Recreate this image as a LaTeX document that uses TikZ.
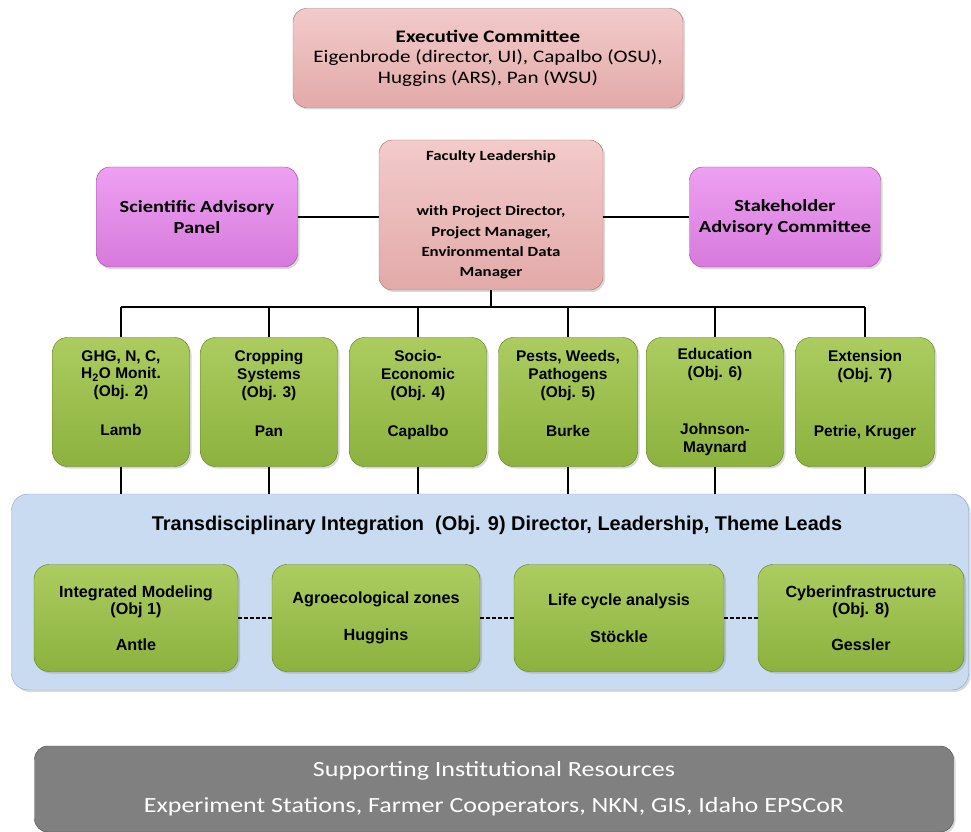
\documentclass[tikz,border=0pt]{standalone}
\usepackage{fontspec}
\setmainfont[FakeStretch=1.2]{Carlito}
\newfontfamily\objfont{Liberation Sans}
\usetikzlibrary{shadows}

\definecolor{pinktop}{RGB}{242,203,202}
\definecolor{pinkbot}{RGB}{226,170,169}
\definecolor{pinkline}{RGB}{170,120,120}
\definecolor{magtop}{RGB}{238,160,242}
\definecolor{magbot}{RGB}{214,122,220}
\definecolor{magline}{RGB}{160,80,165}
\definecolor{greentop}{RGB}{172,204,96}
\definecolor{greenbot}{RGB}{140,178,62}
\definecolor{greenline}{RGB}{100,130,40}
\definecolor{bluefill}{RGB}{200,219,240}
\definecolor{blueline}{RGB}{140,170,205}
\definecolor{grayfill}{RGB}{128,128,128}
\definecolor{grayline}{RGB}{85,85,85}

\tikzset{
  wh/.style 2 args={minimum width=#1*0.3mm, minimum height=#2*0.3mm},
  box/.style={draw, rounded corners=4mm, align=center, inner sep=1pt,
    drop shadow={opacity=0.3, shadow xshift=0.6mm, shadow yshift=-0.6mm}},
  execbox/.style={box, draw=pinkline, top color=pinktop, bottom color=pinkbot,
    font=\fontsize{15}{17.4}\selectfont},
  advbox/.style={box, draw=magline, top color=magtop, bottom color=magbot,
    font=\fontsize{14.5}{18}\selectfont\bfseries},
  objbox/.style={box, rounded corners=4.5mm, draw=greenline, top color=greentop,
    bottom color=greenbot, font=\objfont\fontsize{13.2}{15.3}\selectfont\bfseries},
  intbox/.style={box, rounded corners=5mm, draw=blueline, fill=bluefill},
  resbox/.style={box, draw=grayline, fill=grayfill, text=white,
    font=\fontsize{18.5}{31}\selectfont},
  link/.style={line width=1.3pt},
  dashlink/.style={line width=1.5pt, dash pattern=on 3.4pt off 1.7pt}
}

\begin{document}
\begin{tikzpicture}[x=0.3mm, y=-0.3mm]
  \useasboundingbox (0,0) rectangle (971,832);

  \node[execbox, wh={390}{99}] (exec) at (488,58)
    {\textbf{Executive Committee}\\Eigenbrode (director, UI), Capalbo (OSU),\\Huggins (ARS), Pan (WSU)};

  \node[advbox, wh={201}{100}] (sap) at (197,217) {Scientific Advisory\\Panel};
  \node[execbox, wh={224}{150}, font=\fontsize{12}{17.3}\selectfont\bfseries] (fac) at (491,215)
    {Faculty Leadership\\[29.5pt]with Project Director,\\Project Manager,\\Environmental Data\\Manager};
  \node[advbox, wh={191}{100}] (sac) at (785,217) {Stakeholder\\Advisory Committee};

  \draw[link] (sap) -- (sac -| fac.west);
  \draw[link] (fac.east |- sac) -- (sac);

  % objectives row
  \node[objbox, wh={137}{129}] (o2) at (121,402) {GHG, N, C,\\H\textsubscript{2}O Monit.\\(Obj. 2)\\[18pt]Lamb\\~};
  \node[objbox, wh={137}{129}] (o3) at (269,402) {Cropping\\Systems\\(Obj. 3)\\[18pt]Pan\\~};
  \node[objbox, wh={137}{129}] (o4) at (418,402) {Socio-\\Economic\\(Obj. 4)\\[18pt]Capalbo\\~};
  \node[objbox, wh={139}{129}] (o5) at (568,402) {Pests, Weeds,\\Pathogens\\(Obj. 5)\\[18pt]Burke\\~};
  \node[objbox, wh={137}{129}] (o6) at (715,402) {Education\\(Obj. 6)\\~\\[18pt]Johnson-\\Maynard};
  \node[objbox, wh={139}{129}] (o7) at (865,402) {Extension\\(Obj. 7)\\~\\[18pt]Petrie, Kruger\\~};

  \coordinate (busl) at (121,307);
  \coordinate (busr) at (865,307);
  \draw[link] (busl) -- (busr);
  \draw[link] (fac) -- (fac |- busl);
  \foreach \o in {o2,o3,o4,o5,o6,o7}
    \draw[link] (\o.north) -- (\o |- busl);

  % integration
  \node[intbox, wh={957}{196}] (int) at (490,592) {};
  \node[font=\objfont\fontsize{17}{20}\selectfont\bfseries] (inttitle) at (497,525)
    {Transdisciplinary Integration~~(Obj. 9) Director, Leadership, Theme Leads};
  \foreach \o in {o2,o3,o4,o5,o6,o7}
    \draw[link] (\o.south) -- (\o |- int.north);

  \node[objbox, wh={204}{107}, font=\objfont\fontsize{13.8}{15.3}\selectfont\bfseries] (im) at (136,618)
    {Integrated Modeling\\(Obj 1)\\[15pt]Antle};
  \node[objbox, wh={208}{107}, font=\objfont\fontsize{13.8}{15.3}\selectfont\bfseries] (az) at (376,618)
    {Agroecological zones\\[16pt]Huggins};
  \node[objbox, wh={210}{107}, font=\objfont\fontsize{13.8}{15.3}\selectfont\bfseries] (lc) at (619,618)
    {Life cycle analysis\\[16pt]St\"ockle};
  \node[objbox, wh={206}{107}, font=\objfont\fontsize{13.8}{15.3}\selectfont\bfseries] (ci) at (861,618)
    {Cyberinfrastructure\\(Obj. 8)\\[15pt]Gessler};

  \draw[dashlink] (im) -- (az);
  \draw[dashlink] (az) -- (lc);
  \draw[dashlink] (lc) -- (ci);

  \node[resbox, wh={919}{86}] (res) at (494,789)
    {Supporting Institutional Resources\\Experiment Stations, Farmer Cooperators, NKN, GIS, Idaho EPSCoR};
\end{tikzpicture}
\end{document}
